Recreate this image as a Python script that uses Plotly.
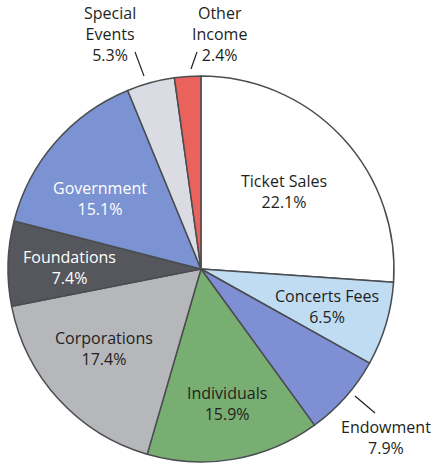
import math
import plotly.graph_objects as go

# ---- data ----
categories = ["Ticket Sales", "Concerts Fees", "Endowment", "Individuals",
              "Corporations", "Foundations", "Government", "Special Events",
              "Other Income"]
label_lines = [["Ticket Sales"], ["Concerts Fees"], ["Endowment"], ["Individuals"],
               ["Corporations"], ["Foundations"], ["Government"], ["Special", "Events"],
               ["Other", "Income"]]
percent_labels = ["22.1%", "6.5%", "7.9%", "15.9%", "17.4%", "7.4%", "15.1%", "5.3%", "2.4%"]
# slice sizes as drawn in the picture (share of the full circle, %)
drawn_share = [26.1, 7.0, 6.9, 14.5, 17.4, 7.1, 14.8, 4.0, 2.2]

# ---- style ----
colors = ["#ffffff", "#bfdcf3", "#7f8fd3", "#79ae72", "#b6b7bb",
          "#55575c", "#7b93d2", "#dadbe3", "#e9635c"]
text_colors = ["#231f20", "#231f20", "#231f20", "#231f20", "#231f20",
               "#ffffff", "#ffffff", "#231f20", "#231f20"]
W, H = 434, 464
CX, CY, R = 201, 269, 193   # pixel centre/radius of the pie
FONT = "Open Sans"
FS = 16

# label placement: (angle offset deg, radius fraction) for inside labels
inside_place = {0: (0, 0.59), 1: (0, 0.68), 3: (-1, 0.71), 4: (3, 0.65),
                5: (-1, 0.68), 6: (-6, 0.64)}
# outside labels: pixel positions of text block centres and leader lines
outside_text = {2: (386, 437), 7: (110, 34), 8: (219, 34)}
leaders = {2: ((355, 396), (375, 413)), 7: ((135, 52), (144, 76)),
           8: ((197, 52), (191, 69))}

fig = go.Figure(go.Pie(
    labels=categories, values=drawn_share, sort=False, direction="clockwise",
    rotation=0, textinfo="none", hoverinfo="label",
    marker=dict(colors=colors, line=dict(color="#4a4d50", width=1.5)),
    domain=dict(x=[(CX - R) / W, (CX + R) / W],
                y=[(H - CY - R) / H, (H - CY + R) / H]),
    showlegend=False,
))

def px(x, y):
    return x / W, 1 - y / H

total = sum(drawn_share)
cum = 0
annotations = []
shapes = []
for i, v in enumerate(drawn_share):
    mid = (cum + v / 2) / total * 360
    cum += v
    text = "<br>".join(label_lines[i] + [percent_labels[i]])
    if i in inside_place:
        off, fr = inside_place[i]
        a = math.radians(mid + off)
        x = CX + R * fr * math.sin(a)
        y = CY - R * fr * math.cos(a)
    else:
        x, y = outside_text[i]
    xp, yp = px(x, y)
    annotations.append(dict(x=xp, y=yp, xref="paper", yref="paper", text=text,
                            showarrow=False, xanchor="center", yanchor="middle",
                            align="center",
                            font=dict(family=FONT, size=FS, color=text_colors[i])))
    if i in leaders:
        (x0, y0), (x1, y1) = leaders[i]
        a0, b0 = px(x0, y0)
        a1, b1 = px(x1, y1)
        shapes.append(dict(type="line", xref="paper", yref="paper",
                           x0=a0, y0=b0, x1=a1, y1=b1,
                           line=dict(color="#231f20", width=1.2)))

fig.update_layout(
    width=W, height=H, margin=dict(l=0, r=0, t=0, b=0),
    paper_bgcolor="white", plot_bgcolor="white",
    annotations=annotations, shapes=shapes,
)
fig.write_html("out.html", config={"displayModeBar": False},
               post_script="document.body.style.margin='0';document.body.style.overflow='hidden';")
